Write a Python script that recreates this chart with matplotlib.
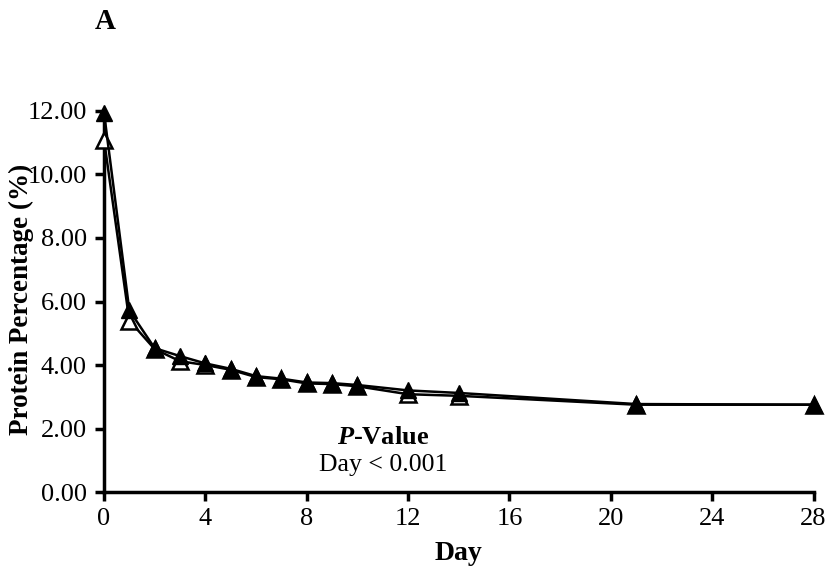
import matplotlib
matplotlib.use("Agg")
import matplotlib.pyplot as plt

plt.rcParams['font.family'] = ['Liberation Serif', 'DejaVu Serif']
plt.rcParams['mathtext.fontset'] = 'custom'
plt.rcParams['mathtext.rm'] = 'Liberation Serif'
plt.rcParams['mathtext.it'] = 'Liberation Serif:italic'
plt.rcParams['mathtext.bf'] = 'Liberation Serif:bold'
plt.rcParams['mathtext.bfit'] = 'Liberation Serif:bold:italic'

days = [0, 1, 2, 3, 4, 5, 6, 7, 8, 9, 10, 12, 14, 21, 28]
open_vals = [11.1, 5.4, 4.5, 4.12, 4.0, 3.85, 3.62, 3.55, 3.42, 3.4, 3.33, 3.08, 3.03, 2.75, 2.75]
filled_vals = [11.95, 5.72, 4.53, 4.28, 4.05, 3.88, 3.65, 3.57, 3.45, 3.43, 3.37, 3.2, 3.12, 2.77, 2.75]
xticks = [0, 4, 8, 12, 16, 20, 24, 28]
yticks = [0, 2, 4, 6, 8, 10, 12]

fig = plt.figure(figsize=(8.28, 5.75), dpi=100)
ax = fig.add_axes([0.1256, 0.1443, 0.857, 0.6627])

ax.plot(days, open_vals, color='black', lw=1.8, marker='^', markersize=12,
        markerfacecolor='white', markeredgecolor='black', markeredgewidth=1.8,
        clip_on=False, zorder=3)
ax.plot(days, filled_vals, color='black', lw=1.8, marker='^', markersize=12,
        markerfacecolor='black', markeredgecolor='black',
        clip_on=False, zorder=4)

ax.set_xlim(0, 28)
ax.set_ylim(0, 12)
ax.set_xticks(xticks)
ax.set_xticklabels([str(t) for t in xticks])
ax.set_yticks(yticks)
ax.set_yticklabels([f"{t:.2f}" for t in yticks])

for s in ['top', 'right']:
    ax.spines[s].set_visible(False)
for s in ['left', 'bottom']:
    ax.spines[s].set_linewidth(2.5)
ax.tick_params(direction='out', length=6.5, width=2.5, labelsize=19)
ax.tick_params(axis='y', pad=6)
ax.tick_params(axis='x', pad=5)

ax.set_xlabel('Day', fontsize=20, fontweight='bold', labelpad=8)
fig.text(0.026, 0.48, 'Protein Percentage (%)', rotation=90, fontsize=19.5,
         fontweight='bold', ha='center', va='center')

fig.text(0.127, 0.962, 'A', fontsize=21, fontweight='bold', ha='center', va='center')

ax.text(11.0, 1.73, r'$\mathbfit{P}$-Value', fontsize=19, ha='center', va='center',
        fontweight='bold')
ax.text(11.0, 0.85, 'Day < 0.001', fontsize=18.5, ha='center', va='center')

fig.savefig('out.png', dpi=100)
